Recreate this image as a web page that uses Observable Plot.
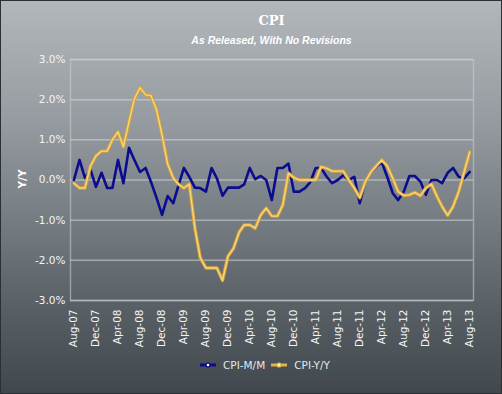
<!DOCTYPE html>
<html>
<head>
<meta charset="utf-8">
<script src="https://cdn.jsdelivr.net/npm/d3@7"></script>
<script src="https://cdn.jsdelivr.net/npm/@observablehq/plot@0.6"></script>
<style>
  html, body { margin: 0; padding: 0; background: #3c4349; }
  #wrap {
    position: relative; width: 502px; height: 394px; overflow: hidden;
    background: linear-gradient(to bottom, #b3b7bb 0%, #969ca1 30%, #767d83 55%, #586066 78%, #40474d 100%);
    box-shadow: inset 0 0 0 1px #2b3034;
    font-family: "DejaVu Sans", sans-serif;
  }
  #title { position: absolute; left: 70px; width: 403px; top: 13px; text-align: center;
    font-family: "DejaVu Serif", serif; font-weight: bold; font-size: 13px; color: #ffffff; }
  #subtitle { position: absolute; left: 70px; width: 403px; top: 34px; text-align: center;
    font-family: "Liberation Sans", sans-serif; font-weight: bold; font-style: italic; font-size: 10.5px; color: #ffffff; }
  #ylab { position: absolute; left: 12px; top: 173px; transform: rotate(-90deg); transform-origin: center;
    font-weight: bold; font-size: 10.5px; color: #ffffff; }
  #chart { position: absolute; left: 0; top: 0; }
  #legend { position: absolute; top: 359px; left: 200px; display: flex; align-items: center;
    font-size: 10.5px; color: #e4e8ea; white-space: nowrap; }
  #legend .item { display: flex; align-items: center; margin-right: 6px; }
  #legend svg { margin-right: 7px; }
</style>
</head>
<body>
<div id="wrap">
  <div id="title">CPI</div>
  <div id="subtitle">As Released, With No Revisions</div>
  <div id="ylab">Y/Y</div>
  <div id="chart"></div>
  <div id="legend"></div>
</div>
<script>
// Monthly series, Aug-07 .. Aug-13 (73 months), values in percent
const cpiMM = [
  0.0, 0.5, 0.05, 0.25, -0.17, 0.18, -0.2, -0.2, 0.5, -0.08,
  0.8, 0.5, 0.2, 0.3, -0.05, -0.45, -0.87, -0.4, -0.58, -0.15,
  0.3, 0.08, -0.19, -0.2, -0.29, 0.3, 0.04, -0.39, -0.19, -0.19,
  -0.19, -0.11, 0.3, 0.02, 0.1, 0.0, -0.5, 0.3, 0.3, 0.41,
  -0.29, -0.29, -0.2, -0.06, 0.3, 0.3, 0.08, -0.08, 0.0, 0.12,
  0.0, 0.08, -0.58, -0.04, 0.2, 0.33, 0.44, 0.08, -0.33, -0.5,
  -0.29, 0.1, 0.1, -0.04, -0.37, 0.0, 0.0, -0.08, 0.18, 0.3,
  0.08, 0.04, 0.2
];
const cpiYY = [
  -0.08, -0.2, -0.2, 0.35, 0.6, 0.72, 0.72, 1.0, 1.2, 0.83,
  1.45, 2.02, 2.3, 2.12, 2.1, 1.74, 1.12, 0.4, 0.05, -0.1,
  -0.2, -0.1, -1.2, -1.94, -2.19, -2.19, -2.19, -2.5, -1.9, -1.7,
  -1.3, -1.12, -1.12, -1.2, -0.87, -0.7, -0.9, -0.9, -0.62, 0.17,
  0.06, 0.0, 0.0, 0.0, 0.0, 0.33, 0.29, 0.22, 0.22, 0.22,
  0.0, -0.2, -0.44, -0.04, 0.2, 0.35, 0.5, 0.35, 0.04, -0.29,
  -0.39, -0.37, -0.31, -0.39, -0.2, -0.1, -0.41, -0.66, -0.88, -0.66,
  -0.29, 0.2, 0.7
];
const tickLabels = ["Aug-07","Dec-07","Apr-08","Aug-08","Dec-08","Apr-09","Aug-09","Dec-09","Apr-10",
  "Aug-10","Dec-10","Apr-11","Aug-11","Dec-11","Apr-12","Aug-12","Dec-12","Apr-13","Aug-13"];
const yTicks = [-3, -2, -1, 0, 1, 2, 3];
const seriesNames = ["CPI-M/M", "CPI-Y/Y"];
const seriesColors = ["#0c0c8e", "#e2b448"];

const months = d3.utcMonth.range(new Date(Date.UTC(2007, 7, 1)), new Date(Date.UTC(2013, 8, 1)));
const rows = months.map((d, i) => ({date: d, mm: cpiMM[i], yy: cpiYY[i]}));
const tickDates = months.filter((d, i) => i % 4 === 0);

const chart = Plot.plot({
  width: 502,
  height: 352,
  marginLeft: 70,
  marginRight: 29,
  marginTop: 59,
  marginBottom: 52,
  style: {background: "transparent", color: "#f4f4f4", fontFamily: "DejaVu Sans", fontSize: "10.5px", overflow: "visible"},
  x: {
    type: "utc",
    domain: [new Date(Date.UTC(2007, 6, 13)), new Date(Date.UTC(2013, 7, 22))],
    ticks: tickDates,
    tickFormat: d => tickLabels[tickDates.findIndex(t => +t === +d)],
    tickRotate: -90,
    tickSize: 0,
    tickPadding: 9,
    label: null
  },
  y: {
    domain: [-3, 3],
    ticks: yTicks,
    tickFormat: d => d.toFixed(1) + "%",
    tickSize: 0,
    tickPadding: 5,
    label: null
  },
  marks: [
    Plot.gridY(yTicks, {stroke: "#d3d8db", strokeOpacity: 0.55, strokeWidth: 1.5}),
    Plot.frame({stroke: "#c9cfd3", strokeOpacity: 0.55, strokeWidth: 1.5}),
    Plot.lineY(rows, {x: "date", y: "mm", stroke: seriesColors[0], strokeWidth: 2.6}),
    Plot.lineY(rows, {x: "date", y: "yy", stroke: "#d6a23a", strokeWidth: 3.4}),
    Plot.lineY(rows, {x: "date", y: "yy", stroke: "#f6d77e", strokeWidth: 1.4})
  ]
});
document.getElementById("chart").appendChild(chart);

// Legend
const legend = document.getElementById("legend");
seriesNames.forEach((name, k) => {
  const item = document.createElement("div");
  item.className = "item";
  const inner = k === 0 ? "#ffffff" : "#fff3c8";
  item.innerHTML = `<svg width="16" height="8"><line x1="0" y1="4" x2="16" y2="4" stroke="${seriesColors[k]}" stroke-width="3"/><circle cx="8" cy="4" r="2.6" fill="${seriesColors[k]}"/><circle cx="8" cy="4" r="1.3" fill="${inner}"/></svg><span>${name}</span>`;
  legend.appendChild(item);
});
</script>
</body>
</html>
